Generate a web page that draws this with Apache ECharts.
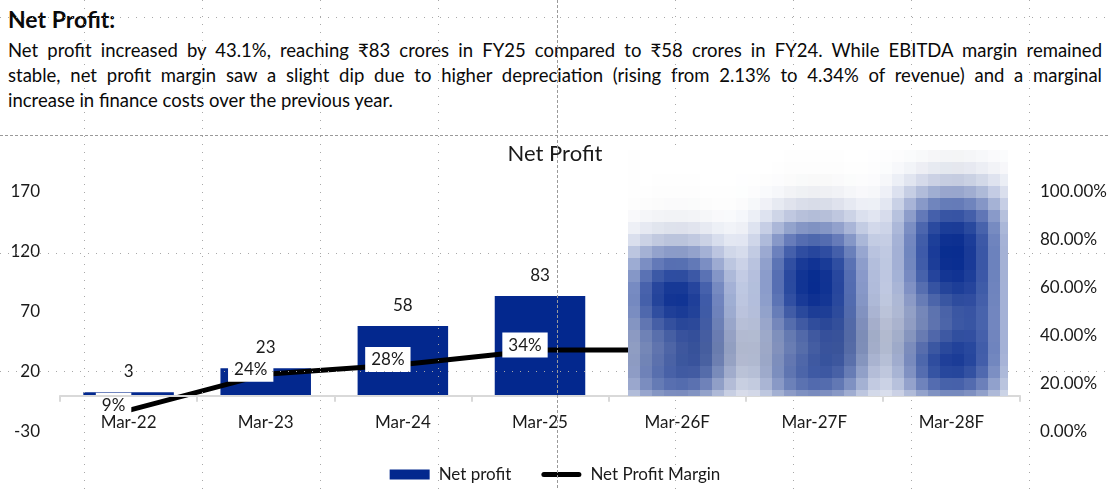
<!DOCTYPE html>
<html lang="en">
<head>
<meta charset="UTF-8">
<title>Net Profit</title>
<script src="https://cdn.jsdelivr.net/npm/echarts@6/dist/echarts.min.js"></script>
<style>
  body { margin: 0; background: #fff; }
  #page { position: relative; width: 1110px; height: 489px; overflow: hidden;
          font-family: Lato, "Noto Sans", "DejaVu Sans", sans-serif; color: #0a0a0a; }
  #chart { position: absolute; left: 0; top: 0; width: 1110px; height: 489px; z-index: 2; }
  #grid { position: absolute; left: 0; top: 0; z-index: 3; pointer-events: none; }
  #blur { position: absolute; z-index: 4; pointer-events: none; }
  .head { position: absolute; left: 8px; top: 8px; font-size: 23px; line-height: 23px; font-weight: bold; z-index: 1; }
  .ln { position: absolute; left: 8px; width: 1094px; font-size: 18.5px; line-height: 18px;
        white-space: nowrap; text-align: justify; text-align-last: justify; z-index: 1; }
  .ln.last { text-align-last: left; }
</style>
</head>
<body>
<div id="page">
  <div class="head">Net Profit:</div>
  <div class="ln" style="top:41px">Net profit increased by 43.1%, reaching ₹83 crores in FY25 compared to ₹58 crores in FY24. While EBITDA margin remained</div>
  <div class="ln" style="top:66px">stable, net profit margin saw a slight dip due to higher depreciation (rising from 2.13% to 4.34% of revenue) and a marginal</div>
  <div class="ln last" style="top:91px">increase in finance costs over the previous year.</div>
  <div id="chart"></div>
  <canvas id="grid" width="1110" height="489"></canvas>
</div>
<script>
// values (forecast years are blurred in the source, so estimated)
var categories = ['Mar-22', 'Mar-23', 'Mar-24', 'Mar-25', 'Mar-26F', 'Mar-27F', 'Mar-28F'];
var netProfit = [3, 23, 58, 83, 117, 138, 163];
var profitMargin = [9, 24, 28, 34, 34, 35, 45];
var firstForecast = 4; // index of Mar-26F

var font = 'Lato, "Noto Sans", "DejaVu Sans", sans-serif';
var ink = '#1a1a1a';

var chartDom = document.getElementById('chart');
var chart = echarts.init(chartDom, null, { renderer: 'canvas' });

var option = {
    animation: false,
    textStyle: { fontFamily: font },
    title: {
        text: 'Net Profit',
        left: 'center',
        top: 138,
        textStyle: { fontSize: 22, fontWeight: 'normal', color: ink, fontFamily: font }
    },
    legend: {
        top: 461,
        left: 'center',
        itemWidth: 40,
        itemHeight: 10,
        itemGap: 30,
        textStyle: { fontSize: 17, color: ink, padding: [0, 0, 0, 4] },
        data: [
            { name: 'Net profit', icon: 'rect' },
            { name: 'Net Profit Margin', icon: 'path://M2.5,0 H37.5 A2.5,2.5 0 0 1 37.5,5 H2.5 A2.5,2.5 0 0 1 2.5,0 Z' }
        ]
    },
    grid: { left: 60, right: 90, top: 155, bottom: 57 },
    xAxis: {
        type: 'category',
        data: categories,
        z: 10,
        axisLine: { onZero: false, lineStyle: { color: '#d9d9d9', width: 2 } },
        axisTick: { show: true, length: 6, lineStyle: { color: '#d9d9d9', width: 2 } },
        axisLabel: { fontSize: 17, color: ink, margin: 18 }
    },
    yAxis: [{
        type: 'value',
        min: -30,
        max: 200,
        interval: 50,
        axisLine: { show: false },
        axisTick: { show: false },
        splitLine: { show: false },
        axisLabel: { fontSize: 17, color: ink, margin: 20, showMaxLabel: false }
    }, {
        type: 'value',
        position: 'right',
        min: 0,
        max: 115,
        interval: 20,
        axisLine: { show: false },
        axisTick: { show: false },
        splitLine: { show: false },
        axisLabel: {
            fontSize: 17, color: ink, margin: 20, showMaxLabel: false,
            formatter: function (v) { return v.toFixed(2) + '%'; }
        }
    }],
    series: [{
        name: 'Net profit',
        type: 'bar',
        data: netProfit,
        barWidth: '66%',
        itemStyle: { color: '#03288e' },
        label: { show: true, position: 'top', distance: 12, fontSize: 17, color: ink }
    }, {
        name: 'Net Profit Margin',
        type: 'line',
        yAxisIndex: 1,
        data: profitMargin,
        symbol: 'circle',
        symbolSize: 1,
        itemStyle: { color: '#000' },
        lineStyle: { color: '#000', width: 5 },
        z: 3,
        label: {
            show: true,
            position: 'inside',
            offset: [-15, -5],
            formatter: '{c}%',
            fontSize: 17,
            color: ink,
            backgroundColor: '#fff',
            padding: [5, 6, 3, 6]
        }
    }]
};

chart.setOption(option);

// the category axis sits on the zero line of the left axis
var lift = chart.convertToPixel({ yAxisIndex: 0 }, option.yAxis[0].min) -
           chart.convertToPixel({ yAxisIndex: 0 }, 0);
chart.setOption({ xAxis: { offset: -lift } });

// page gridlines drawn over everything (dotted every ~118px, dashed centre lines)
function drawGrid() {
    var c = document.getElementById('grid').getContext('2d');
    c.lineWidth = 1;
    c.strokeStyle = '#a8a8a8';
    c.setLineDash([1, 7]);
    [84, 202, 320, 438, 675, 793, 911, 1029].forEach(function (x) {
        c.beginPath(); c.moveTo(x + 0.5, 0); c.lineTo(x + 0.5, 489); c.stroke();
    });
    [17, 253, 371].forEach(function (y) {
        c.beginPath(); c.moveTo(0, y + 0.5); c.lineTo(1110, y + 0.5); c.stroke();
    });
    c.strokeStyle = '#9a9a9a';
    c.setLineDash([3, 2]);
    c.beginPath(); c.moveTo(557.5, 0); c.lineTo(557.5, 489); c.stroke();
    c.beginPath(); c.moveTo(0, 135.5); c.lineTo(1110, 135.5); c.stroke();
}
drawGrid();

// forecast years are hidden behind a blurred mosaic in the source
function pixelate() {
    var src = chartDom.querySelector('canvas');
    if (!src) return;
    var dpr = src.width / chart.getWidth();
    var c0 = chart.convertToPixel({ xAxisIndex: 0 }, firstForecast);
    var c1 = chart.convertToPixel({ xAxisIndex: 0 }, categories.length - 1);
    var band = chart.convertToPixel({ xAxisIndex: 0 }, 1) - chart.convertToPixel({ xAxisIndex: 0 }, 0);
    var x0 = Math.round(c0 - 0.36 * band);
    var x1 = Math.round(c1 + 0.41 * band);
    var y0 = Math.round(chart.convertToPixel({ yAxisIndex: 0 }, 200) - 5);
    var y1 = Math.round(chart.convertToPixel({ yAxisIndex: 0 }, 0));
    var w = x1 - x0, h = y1 - y0, pad = 60, bs = 12;

    var a = document.createElement('canvas');
    a.width = w + 2 * pad; a.height = h + 2 * pad;
    var ac = a.getContext('2d');
    ac.fillStyle = '#fff';
    ac.fillRect(0, 0, a.width, a.height);
    ac.drawImage(src, (x0 - pad) * dpr, (y0 - pad) * dpr, a.width * dpr, a.height * dpr, 0, 0, a.width, a.height);

    var b = document.createElement('canvas');
    b.width = a.width; b.height = a.height;
    var bc = b.getContext('2d');
    bc.fillStyle = '#fff';
    bc.fillRect(0, 0, b.width, b.height);
    bc.filter = 'blur(21px)';
    bc.drawImage(a, 0, 0);

    var sw = Math.ceil(w / bs), sh = Math.ceil(h / bs);
    var s = document.createElement('canvas');
    s.width = sw; s.height = sh;
    var sc = s.getContext('2d');
    sc.imageSmoothingEnabled = true;
    sc.imageSmoothingQuality = 'high';
    sc.drawImage(b, pad, pad, sw * bs, sh * bs, 0, 0, sw, sh);

    var o = document.createElement('canvas');
    o.id = 'blur';
    o.width = w; o.height = h;
    o.style.left = x0 + 'px';
    o.style.top = y0 + 'px';
    var oc = o.getContext('2d');
    oc.imageSmoothingEnabled = false;
    oc.drawImage(s, 0, 0, sw, sh, 0, 0, sw * bs, sh * bs);
    document.getElementById('page').appendChild(o);
}
try { pixelate(); } catch (e) { console.log(e); }
</script>
</body>
</html>
